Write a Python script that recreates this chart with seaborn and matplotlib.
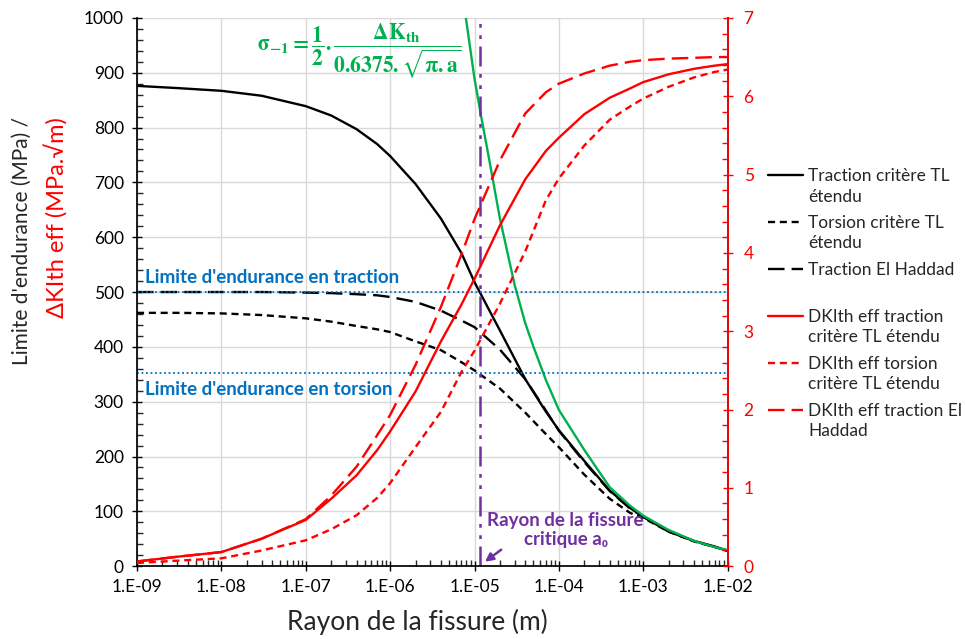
import matplotlib
matplotlib.use("Agg")
import matplotlib.pyplot as plt
import seaborn as sns
import pandas as pd
from matplotlib.ticker import FixedLocator, MultipleLocator, LogLocator, NullFormatter

# rayon de fissure (m) commun aux courbes
rayon = [1e-9, 3e-9, 1e-8, 3e-8, 1e-7, 2e-7, 4e-7, 7e-7, 1e-6, 2e-6, 4e-6, 7e-6,
         1e-5, 2e-5, 4e-5, 7e-5, 1e-4, 2e-4, 4e-4, 7e-4, 1e-3, 2e-3, 4e-3, 7e-3, 1e-2]

# limites d'endurance (MPa)
traction_tl = [876, 872, 867, 858, 839, 822, 797, 770, 748, 697, 634, 571,
               518, 430, 341, 282, 248, 192, 138, 106, 90, 63, 46, 36, 28]
torsion_tl = [462, 462, 461, 458, 452, 446, 438, 432, 427, 410, 394, 372,
              357, 324, 280, 241, 217, 167, 123, 97, 88, 63, 45, 35, 28]
traction_haddad = [500, 500, 500, 500, 499, 498, 496, 494, 491, 482, 466, 448,
                   436, 395, 341, 284, 247, 190, 137, 105, 90, 64, 46, 35, 28]

# DKth eff (MPa.sqrt(m))
dk_traction_tl = [0.06, 0.12, 0.18, 0.35, 0.59, 0.86, 1.16, 1.48, 1.72, 2.23, 2.87, 3.34,
                  3.67, 4.35, 4.94, 5.3, 5.47, 5.77, 5.98, 6.1, 6.18, 6.28, 6.35, 6.39, 6.41]
dk_torsion_tl = [0.04, 0.07, 0.1, 0.2, 0.33, 0.47, 0.65, 0.87, 1.06, 1.52, 1.97, 2.48,
                 2.75, 3.35, 4.02, 4.67, 4.95, 5.37, 5.7, 5.87, 5.97, 6.12, 6.24, 6.31, 6.34]
dk_traction_haddad = [0.06, 0.12, 0.18, 0.35, 0.6, 0.9, 1.27, 1.67, 1.93, 2.57, 3.31, 3.98,
                      4.43, 5.18, 5.78, 6.05, 6.16, 6.29, 6.39, 6.44, 6.46, 6.48, 6.49, 6.5, 6.5]

# courbe sigma_-1 (formule)
rayon_formule = [7.9e-6, 1e-5, 1.2e-5, 1.5e-5, 2e-5, 3e-5, 4e-5, 5e-5, 7e-5, 1e-4,
                 2e-4, 4e-4, 7e-4, 1e-3, 2e-3, 4e-3, 7e-3, 1e-2]
sigma_formule = [1000, 889, 820, 740, 634, 512, 443, 400, 340, 285,
                 212, 144, 110, 92, 66, 46, 35, 29]

limite_traction = 500
limite_torsion = 352
a0 = 1.16e-5

x_ticks = [1e-9, 1e-8, 1e-7, 1e-6, 1e-5, 1e-4, 1e-3, 1e-2]
x_labels = ["1.E-09", "1.E-08", "1.E-07", "1.E-06", "1.E-05", "1.E-04", "1.E-03", "1.E-02"]

sns.set_theme(style="white")
plt.rcParams['font.family'] = ['Lato', 'DejaVu Sans']
plt.rcParams['mathtext.fontset'] = 'stix'

RED = "#FF0000"
GREEN = "#00B050"
BLUE = "#0070C0"
PURPLE = "#7030A0"
short_dash = (0, (3, 2))
long_dash = (0, (7, 3))
LW = 1.7

fig = plt.figure(figsize=(9.65, 6.39), dpi=100)
ax = fig.add_axes([0.142, 0.114, 0.612, 0.858])
ax.set_xscale("log")
ax2 = ax.twinx()

df = pd.DataFrame({"rayon": rayon,
                   "traction_tl": traction_tl, "torsion_tl": torsion_tl,
                   "traction_haddad": traction_haddad,
                   "dk_traction_tl": dk_traction_tl, "dk_torsion_tl": dk_torsion_tl,
                   "dk_traction_haddad": dk_traction_haddad})
df_f = pd.DataFrame({"rayon": rayon_formule, "sigma": sigma_formule})

sns.lineplot(data=df, x="rayon", y="traction_tl", ax=ax, color="black", lw=LW,
             label="Traction critère TL\nétendu", legend=False)
sns.lineplot(data=df, x="rayon", y="torsion_tl", ax=ax, color="black", lw=LW,
             linestyle=short_dash, label="Torsion critère TL\nétendu", legend=False)
sns.lineplot(data=df, x="rayon", y="traction_haddad", ax=ax, color="black", lw=LW,
             linestyle=long_dash, label="Traction El Haddad\n ", legend=False)
sns.lineplot(data=df_f, x="rayon", y="sigma", ax=ax, color=GREEN, lw=LW, legend=False)

sns.lineplot(data=df, x="rayon", y="dk_traction_tl", ax=ax2, color=RED, lw=LW,
             label="DKIth eff traction\ncritère TL étendu", legend=False)
sns.lineplot(data=df, x="rayon", y="dk_torsion_tl", ax=ax2, color=RED, lw=LW,
             linestyle=short_dash, label="DKIth eff torsion\ncritère TL étendu", legend=False)
sns.lineplot(data=df, x="rayon", y="dk_traction_haddad", ax=ax2, color=RED, lw=LW,
             linestyle=long_dash, label="DKIth eff traction El\nHaddad", legend=False)

# limites d'endurance et rayon critique
ax.axhline(limite_traction, color=BLUE, lw=1.3, linestyle=(0, (1, 1.5)))
ax.axhline(limite_torsion, color=BLUE, lw=1.3, linestyle=(0, (1, 1.5)))
ax.axvline(a0, color=PURPLE, lw=1.8, linestyle=(0, (8, 3, 1.5, 3, 1.5, 3)))

# axes
ax.set_xlim(1e-9, 1e-2)
ax.set_ylim(0, 1000)
ax2.set_ylim(0, 7)
ax.xaxis.set_major_locator(FixedLocator(x_ticks))
ax.set_xticklabels(x_labels)
ax.xaxis.set_minor_locator(LogLocator(base=10, subs=range(2, 10), numticks=50))
ax.xaxis.set_minor_formatter(NullFormatter())
ax.yaxis.set_major_locator(MultipleLocator(100))
ax.yaxis.set_minor_locator(MultipleLocator(20))
ax2.yaxis.set_major_locator(MultipleLocator(1))
ax2.yaxis.set_minor_locator(MultipleLocator(0.2))

ax.grid(True, which="major", color="#D9D9D9", lw=1)
ax.set_axisbelow(True)
ax.set_xlabel("")
ax.set_ylabel("")
ax2.set_ylabel("")

ax.tick_params(axis="both", which="major", direction="inout", length=7, width=1,
               labelsize=12.5, colors="black", left=True, bottom=True, pad=6)
ax.tick_params(axis="both", which="minor", direction="in", length=4, width=1,
               left=True, bottom=True)
ax2.tick_params(axis="y", which="major", direction="inout", length=7, width=1,
                labelsize=12.5, colors=RED, right=True, pad=8)
ax2.tick_params(axis="y", which="minor", direction="in", length=4, width=1,
                colors=RED, right=True)

for a in (ax, ax2):
    a.spines["top"].set_visible(False)
ax.spines["left"].set_color("black")
ax.spines["bottom"].set_color("black")
ax2.spines["right"].set_color(RED)
ax2.spines["left"].set_visible(False)
ax2.spines["bottom"].set_visible(False)

# textes
ax.text(1.25e-9, 527, "Limite d'endurance en traction", color=BLUE, fontsize=13.5,
        fontweight="bold", va="center", ha="left")
ax.text(1.25e-9, 323, "Limite d'endurance en torsion", color=BLUE, fontsize=13.5,
        fontweight="bold", va="center", ha="left")
ax.text(1.2e-4, 66, "Rayon de la fissure\ncritique a₀", color=PURPLE, fontsize=13.5,
        fontweight="bold", ha="center", va="center", linespacing=1.2)
ax.annotate("", xy=(1.25e-5, 5), xytext=(2.2e-5, 33),
            arrowprops=dict(arrowstyle="-|>", color=PURPLE, lw=1.8, mutation_scale=12))
fig.text(0.372, 0.921,
         r"$\mathbf{\sigma_{-1} = \dfrac{1}{2}.\dfrac{\Delta K_{th}}{0.6375.\sqrt{\pi.a}}}$",
         color=GREEN, fontsize=15.5, ha="center", va="center")

fig.text(0.433, 0.027, "Rayon de la fissure (m)", fontsize=19, ha="center", va="center")
fig.text(0.023, 0.623, "Limite d'endurance (MPa) /", fontsize=15, rotation=90,
         ha="center", va="center")
fig.text(0.059, 0.659, "ΔKIth eff (MPa.√m)", fontsize=17, rotation=90, color=RED,
         ha="center", va="center")

handles = ax.get_lines()[:3] + ax2.get_lines()[:3]
labels = [h.get_label() for h in handles]
leg = fig.legend(handles, labels, loc="upper left", bbox_to_anchor=(0.789, 0.748),
                 frameon=False, fontsize=12.5, handlelength=2.0, handleheight=1.2,
                 handletextpad=0.3, labelspacing=0.6, borderaxespad=0)
for t in leg.get_texts():
    t.set_linespacing(1.35)
for col in leg._legend_handle_box.get_children():
    for row in col.get_children():
        row.align = "top"

fig.savefig("out.png", dpi=100)
